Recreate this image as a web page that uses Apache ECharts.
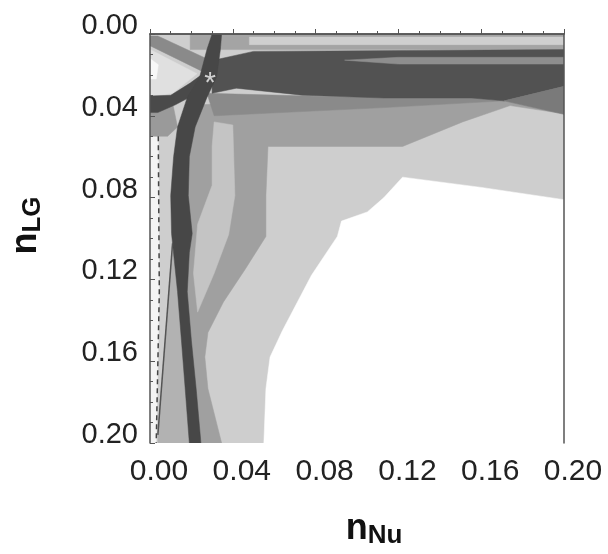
<!DOCTYPE html>
<html><head><meta charset="utf-8">
<script src="https://cdn.jsdelivr.net/npm/echarts@6/dist/echarts.min.js"></script>
<style>html,body{margin:0;padding:0;background:#fff}#c{width:608px;height:554px}</style>
</head><body><div id="c"></div>
<script>
// Axis ranges / ticks
const axisMin = 0, axisMax = 0.2, axisStep = 0.04;

// Shaded regions (vertices in data units: [n_Nu, n_LG])
const base = [[0,0],[0.2,0],[0.2,0.2],[0,0.2]];
const whiteBR = [[0.055,0.2],[0.056,0.1735],[0.058,0.158],[0.064,0.145],[0.078,0.118],[0.0905,0.099],[0.0925,0.0915],[0.105,0.087],[0.113,0.080],[0.122,0.070],[0.160,0.075],[0.2,0.081],[0.2,0.2]];
const whiteLeft = [[0,0.050],[0.004,0.050],[0.0045,0.126],[0.003,0.2],[0,0.2]];
const midRegion = [[0.018,0.035],[0.2,0.025],[0.2,0.039],[0.174,0.035],[0.151,0.043],[0.122,0.055],[0.057,0.055],[0.056,0.079],[0.056,0.099],[0.046,0.115],[0.0355,0.131],[0.028,0.146],[0.0265,0.158],[0.028,0.1735],[0.0346,0.2],[0.0227,0.2],[0.0156,0.126],[0.017,0.079],[0.018,0.041]];
const lightBand = [[0.031,0.043],[0.040,0.0445],[0.041,0.079],[0.038,0.098],[0.031,0.117],[0.023,0.136],[0.021,0.117],[0.023,0.093],[0.030,0.074],[0.030,0.055]];
const leftStrip = [[0.0109,0.1024],[0.0038,0.196],[0.0038,0.2],[0.020,0.2],[0.016,0.13],[0.0125,0.1]];
const leftWedge = [[0,0.0384],[0.0038,0.0384],[0.0109,0.0336],[0.0133,0.0455],[0.0085,0.050],[0,0.050]];
const lightTriangle = [[0,0.0076],[0.0227,0.0194],[0.0109,0.029],[0,0.0303]];
const whitePatch = [[0,0.012],[0.004,0.015],[0.003,0.022],[0,0.022]];
const diagBand = [[0,0.001],[0.0038,0.001],[0.030,0.0133],[0.0275,0.0194],[0,0.0057]];
const topBand = [[0.0194,0],[0.2,0],[0.2,0.0076],[0.0194,0.0076]];
const topStripe = [[0.048,0.0015],[0.2,0.0015],[0.2,0.0052],[0.048,0.0052]];
const underDark = [[0.0275,0.029],[0.113,0.0313],[0.1555,0.0313],[0.171,0.0327],[0.113,0.036],[0.031,0.040]];
const mainDark = [[0.030,0.013],[0.05,0.0085],[0.2,0.0076],[0.2,0.0256],[0.171,0.0327],[0.1555,0.0313],[0.113,0.0313],[0.0735,0.0299],[0.0417,0.0265],[0.030,0.029]];
const midStripe = [[0.094,0.0128],[0.12,0.0114],[0.2,0.0114],[0.2,0.0147],[0.12,0.0147]];
const rightWedge = [[0.171,0.0327],[0.2,0.0256],[0.2,0.0393]];
const darkLeftArm = [[0,0.0303],[0.010,0.030],[0.0194,0.024],[0.0275,0.018],[0.030,0.021],[0.0227,0.029],[0.0123,0.0346],[0.0038,0.0384],[0,0.0384]];
const darkVertical = [[0.030,0],[0.0275,0.0076],[0.024,0.021],[0.018,0.031],[0.0133,0.0455],[0.0114,0.060],[0.010,0.079],[0.0104,0.0976],[0.0133,0.126],[0.0152,0.150],[0.017,0.1735],[0.019,0.2],
  [0.0246,0.2],[0.0223,0.1735],[0.020,0.150],[0.018,0.126],[0.019,0.107],[0.0204,0.0976],[0.0185,0.079],[0.019,0.060],[0.0218,0.0455],[0.0275,0.031],[0.0322,0.021],[0.034,0.0076],[0.0346,0]];

// Lines and marker
const dashedLine = [[0.004,0.050],[0.0045,0.126],[0.003,0.2]];
const thinLine = [[0.0109,0.1024],[0.0038,0.196]];
const bestFit = [[0.029,0.021]];

const layers = [
  {pts: base, color: '#cecece'},
  {pts: whiteBR, color: '#ffffff'},
  {pts: whiteLeft, color: '#f4f4f4'},
  {pts: midRegion, color: '#a0a0a0'},
  {pts: lightBand, color: '#c4c4c4'},
  {pts: leftStrip, color: '#b2b2b2'},
  {pts: leftWedge, color: '#9a9a9a'},
  {pts: lightTriangle, color: '#e0e0e0'},
  {pts: whitePatch, color: '#f8f8f8'},
  {pts: diagBand, color: '#8a8a8a'},
  {pts: topBand, color: '#a4a4a4'},
  {pts: topStripe, color: '#cfcfcf'},
  {pts: underDark, color: '#8a8a8a'},
  {pts: mainDark, color: '#525252'},
  {pts: midStripe, color: '#8e8e8e'},
  {pts: rightWedge, color: '#7a7a7a'},
  {pts: darkLeftArm, color: '#4a4a4a'},
  {pts: darkVertical, color: '#474747'}
];

const chart = echarts.init(document.getElementById('c'));
const fam = 'Liberation Sans';
chart.setOption({
  animation: false,
  grid: {left: 142, top: 34, width: 422, height: 422},
  xAxis: [{
    type: 'value', min: axisMin, max: axisMax, interval: axisStep, z: 10,
    axisLine: {show: true, lineStyle: {color: '#555', width: 1.5}},
    axisTick: {show: true, inside: true, length: 5, lineStyle: {color: '#555'}},
    minorTick: {show: true, splitNumber: 4, length: 3, lineStyle: {color: '#555'}},
    splitLine: {show: false},
    axisLabel: {formatter: v => '{t|' + v.toFixed(2) + '}', margin: 14,
      rich: {t: {fontFamily: fam, fontSize: 30, color: '#222', padding: [0, 0, 0, 18]}}},
    name: '{n|n}{s|Nu}', nameLocation: 'middle', nameGap: 66,
    nameTextStyle: {padding: [0, 0, 0, 34], rich: {n: {fontFamily: fam, fontWeight: 'bold', fontSize: 36, color: '#111'}, s: {fontFamily: fam, fontWeight: 'bold', fontSize: 26, color: '#111', padding: [14,0,0,0]}}}
  }, {
    type: 'value', position: 'top', min: axisMin, max: axisMax, z: 10,
    axisLine: {show: true, onZero: false, lineStyle: {color: '#555', width: 1.5}},
    axisTick: {show: false}, axisLabel: {show: false}, splitLine: {show: false}
  }],
  yAxis: [{
    type: 'value', inverse: true, min: axisMin, max: axisMax, interval: axisStep, z: 10,
    axisLine: {show: true, lineStyle: {color: '#555', width: 1.5}},
    axisTick: {show: true, inside: true, length: 5, lineStyle: {color: '#555'}},
    minorTick: {show: true, splitNumber: 4, length: 3, lineStyle: {color: '#555'}},
    splitLine: {show: false},
    axisLabel: {formatter: v => '{t|' + v.toFixed(2) + '}', margin: 12,
      rich: {t: {fontFamily: fam, fontSize: 29, color: '#222', padding: [0, 0, 16, 0]}}},
    name: '{n|n}{s|LG}', nameLocation: 'middle', nameGap: 104, nameRotate: 90,
    nameTextStyle: {padding: [0, 0, 0, 26], rich: {n: {fontFamily: fam, fontWeight: 'bold', fontSize: 36, color: '#111'}, s: {fontFamily: fam, fontWeight: 'bold', fontSize: 26, color: '#111', padding: [14,0,0,0]}}}
  }, {
    type: 'value', position: 'right', inverse: true, min: axisMin, max: axisMax, z: 10,
    axisLine: {show: true, onZero: false, lineStyle: {color: '#555', width: 1.5}},
    axisTick: {show: false}, axisLabel: {show: false}, splitLine: {show: false}
  }],
  series: [{
    type: 'custom', coordinateSystem: 'cartesian2d', clip: true, z: 2,
    data: layers.map((l, i) => [l.pts[0][0], l.pts[0][1], i]),
    encode: {x: 0, y: 1},
    renderItem: (params, api) => {
      const l = layers[api.value(2)];
      return {type: 'polygon', shape: {points: l.pts.map(p => api.coord(p))}, style: {fill: l.color, stroke: l.color, lineWidth: 0.5}};
    }
  }, {
    type: 'line', data: dashedLine, symbol: 'none', z: 5,
    lineStyle: {color: '#444', width: 1.5, type: [5, 4]}
  }, {
    type: 'line', data: thinLine, symbol: 'none', z: 5,
    lineStyle: {color: '#555', width: 1.5}
  }, {
    type: 'scatter', data: bestFit, symbolSize: 1, z: 6, itemStyle: {color: 'rgba(0,0,0,0)'},
    label: {show: true, formatter: '*', position: 'inside', offset: [0, 7], color: '#f4f4f4', fontFamily: fam, fontSize: 30}
  }]
});
</script></body></html>
